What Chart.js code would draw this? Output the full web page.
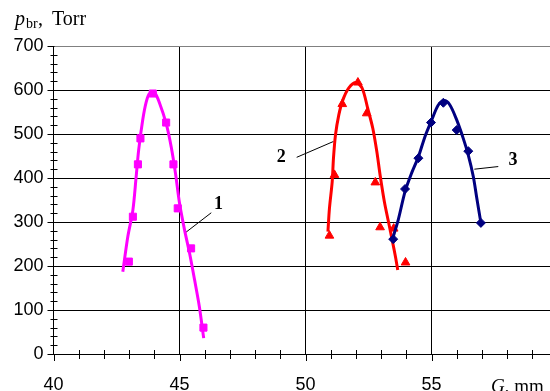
<!DOCTYPE html>
<html>
<head>
<meta charset="utf-8">
<script src="https://cdn.jsdelivr.net/npm/chart.js@4"></script>
<style>
  html, body { margin: 0; padding: 0; overflow: hidden; background: #fff; }
  #wrap { width: 570px; height: 391px; }
</style>
</head>
<body>
<div id="wrap"><canvas id="chart" width="570" height="391"></canvas></div>
<script>
// curve 1 (magenta, squares)
const g1 = [42.99, 43.15, 43.35, 43.45, 43.94, 44.47, 44.76, 44.93, 45.46, 45.95];
const p1 = [210, 312, 431, 490, 592, 526, 431, 331, 240, 60];
const g1Fit = [42.75, 42.95, 43.15, 43.28, 43.38, 43.54, 43.68, 43.81, 44.01, 44.21, 44.47, 44.67, 44.84, 45.0, 45.2, 45.4, 45.6, 45.79, 45.96];
const p1Fit = [187, 267, 327, 403, 464, 532, 573, 592, 594, 570, 524, 471, 411, 343, 282, 229, 168, 107, 36];

// curve 2 (red, triangles)
const g2 = [50.95, 51.15, 51.46, 52.08, 52.43, 52.77, 52.96, 53.5, 53.97];
const p2 = [269, 407, 568, 617, 547, 390, 288, 285, 208];
const g2Fit = [50.89, 50.95, 51.06, 51.11, 51.19, 51.32, 51.48, 51.72, 52.01, 52.25, 52.47, 52.67, 52.83, 52.96, 53.13, 53.29, 53.44, 53.57, 53.66];
const p2Fit = [278, 331, 392, 445, 498, 543, 577, 605, 617, 604, 558, 513, 460, 407, 346, 301, 259, 221, 191];

// curve 3 (navy, diamonds)
const g3 = [53.48, 53.95, 54.48, 54.98, 55.47, 56.0, 56.46, 56.96];
const p3 = [261, 375, 445, 526, 571, 509, 461, 298];
const g3Fit = [53.44, 53.68, 53.95, 54.21, 54.48, 54.74, 55.01, 55.27, 55.5, 55.73, 56.0, 56.26, 56.46, 56.66, 56.79, 56.96];
const p3Fit = [259, 305, 369, 411, 448, 494, 532, 566, 576, 566, 532, 490, 452, 403, 357, 298];

// curve numbers and their leader lines
const labelText = ['1', '2', '3'];
const labelG = [46.55, 49.04, 58.23];
const labelP = [339, 447, 440];
const leadG = [[45.24, 46.26], [49.65, 51.11], [56.7, 57.65]];
const leadP = [[276, 321], [447, 483], [420, 426]];

const gTicks = [40, 45, 50, 55, 60];
const pTicks = [0, 100, 200, 300, 400, 500, 600, 700];

const pts = (xs, ys) => xs.map((x, i) => ({ x: x, y: ys[i] }));

const fitLine = (xs, ys, color) => ({
  data: pts(xs, ys),
  showLine: true,
  borderColor: color,
  borderWidth: 3,
  pointRadius: 0,
  tension: 0.3,
  fill: false
});

const markers = (xs, ys, color, style, r) => ({
  data: pts(xs, ys),
  showLine: false,
  pointStyle: style,
  pointRadius: r,
  pointBackgroundColor: color,
  pointBorderColor: color,
  pointBorderWidth: 1
});

const leaders = leadG.map((xs, i) => ({
  data: pts(xs, leadP[i]),
  showLine: true,
  borderColor: '#000',
  borderWidth: 1,
  pointRadius: 0
}));

// minor ticks, axis captions and curve numbers
const extras = {
  id: 'extras',
  afterDraw(chart) {
    const ctx = chart.ctx;
    const xs = chart.scales.x;
    const ys = chart.scales.y;
    const x0 = xs.getPixelForValue(40);
    const y0 = ys.getPixelForValue(0);
    ctx.save();
    ctx.strokeStyle = '#000';
    ctx.lineWidth = 1;
    ctx.beginPath();
    for (let v = 0; v <= 700; v += 20) {
      const y = Math.round(ys.getPixelForValue(v)) + 0.5;
      if (v % 100 === 0) {
        ctx.moveTo(x0 - 6, y); ctx.lineTo(x0 + 1, y);
      } else {
        ctx.moveTo(x0 - 3, y); ctx.lineTo(x0 + 4, y);
      }
    }
    for (let v = 40; v <= 60; v += 1) {
      const x = Math.round(xs.getPixelForValue(v)) + 0.5;
      if (v % 5 === 0) {
        ctx.moveTo(x, y0); ctx.lineTo(x, y0 + 7);
      } else {
        ctx.moveTo(x, y0 - 4); ctx.lineTo(x, y0 + 5);
      }
    }
    ctx.stroke();

    ctx.fillStyle = '#000';
    ctx.textBaseline = 'alphabetic';
    ctx.textAlign = 'left';
    // y caption
    ctx.font = 'italic 20px "Liberation Serif"';
    ctx.fillText('p', 15, 25);
    ctx.font = '14px "Liberation Serif"';
    ctx.fillText('br', 26, 28);
    ctx.font = '20px "Liberation Serif"';
    ctx.fillText(',', 38, 25);
    ctx.fillText('Torr', 52, 25);
    // x caption
    ctx.font = 'italic 19px "Liberation Serif"';
    ctx.fillText('G', 491, 392);
    const gw = ctx.measureText('G').width;
    ctx.font = '19px "Liberation Serif"';
    ctx.fillText(', mm', 491 + gw, 392);
    // curve numbers
    ctx.font = 'bold 18px "Liberation Serif"';
    ctx.textAlign = 'center';
    ctx.textBaseline = 'middle';
    labelText.forEach((t, i) => {
      ctx.fillText(t, xs.getPixelForValue(labelG[i]), ys.getPixelForValue(labelP[i]));
    });
    ctx.restore();
  }
};

Chart.defaults.font.family = '"Liberation Sans", Arial, sans-serif';
Chart.defaults.font.size = 18;
Chart.defaults.color = '#000';

new Chart(document.getElementById('chart'), {
  type: 'scatter',
  data: {
    datasets: [
      markers(g3, p3, '#000080', 'rectRot', 4.5),
      fitLine(g3Fit, p3Fit, '#000080'),
      markers(g2, p2, '#ff0000', 'triangle', 5),
      fitLine(g2Fit, p2Fit, '#ff0000'),
      markers(g1, p1, '#ff00ff', 'rect', 5),
      fitLine(g1Fit, p1Fit, '#ff00ff'),
      ...leaders
    ]
  },
  options: {
    responsive: false,
    animation: false,
    layout: { padding: { top: 46, right: 12.5, left: 0, bottom: 0 } },
    plugins: {
      legend: { display: false },
      tooltip: { enabled: false }
    },
    scales: {
      x: {
        type: 'linear',
        min: 40,
        max: 60,
        afterFit: (s) => { s.height = 37; s.paddingLeft = 0; s.paddingRight = 0; },
        afterBuildTicks: (s) => { s.ticks = gTicks.map(v => ({ value: v })); },
        ticks: {
          padding: 20,
          maxRotation: 0,
          callback: (v) => (v === 60 ? '' : v)
        },
        grid: { color: '#000', lineWidth: 1, drawTicks: false },
        border: { display: true, color: '#000', width: 1 }
      },
      y: {
        type: 'linear',
        min: 0,
        max: 700,
        afterFit: (s) => { s.width = 53.5; s.paddingTop = 0; s.paddingBottom = 0; },
        afterBuildTicks: (s) => { s.ticks = pTicks.map(v => ({ value: v })); },
        ticks: { padding: 10 },
        grid: {
          color: (c) => (c.tick && c.tick.value === 700 ? '#808080' : '#000'),
          lineWidth: 1,
          drawTicks: false
        },
        border: { display: true, color: '#000', width: 1 }
      }
    }
  },
  plugins: [extras]
});
</script>
</body>
</html>
